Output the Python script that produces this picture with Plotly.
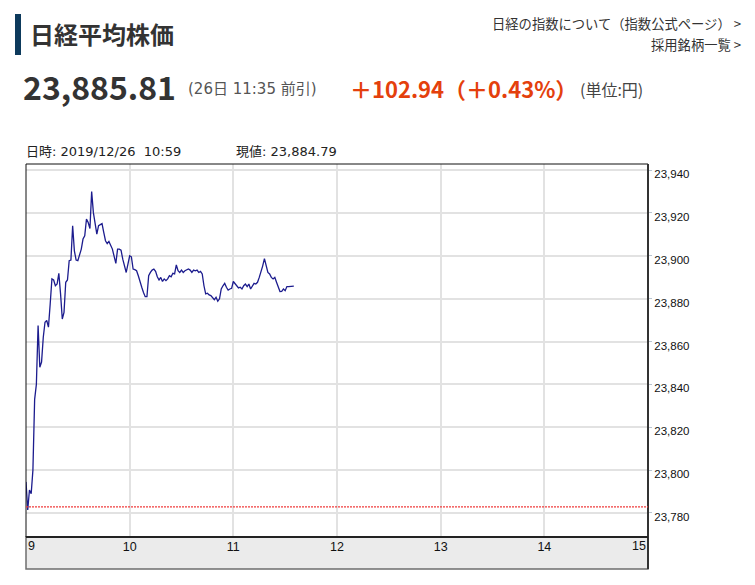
import plotly.graph_objects as go

# ---------------- data ----------------
times = [
    "9:00", "9:01", "9:02", "9:03", "9:04", "9:05", "9:06", "9:07", "9:08", "9:09",
    "9:10", "9:11", "9:12", "9:13", "9:14", "9:15", "9:16", "9:17", "9:18", "9:19",
    "9:20", "9:21", "9:22", "9:23", "9:24", "9:25", "9:26", "9:27", "9:28", "9:29",
    "9:30", "9:32", "9:33", "9:34", "9:35", "9:36", "9:37", "9:38", "9:39",
    "9:40", "9:41", "9:42", "9:43", "9:44", "9:45", "9:46", "9:47", "9:48",
    "9:50", "9:51", "9:52", "9:53", "9:54", "9:55", "9:56", "9:58", "9:59",
    "10:00", "10:01", "10:02", "10:03", "10:04", "10:05", "10:06", "10:07", "10:08", "10:09",
    "10:10", "10:11", "10:12", "10:13", "10:14", "10:15", "10:16", "10:17", "10:18", "10:19",
    "10:20", "10:21", "10:22", "10:23", "10:24", "10:25", "10:26", "10:27", "10:28", "10:29",
    "10:30", "10:31", "10:32", "10:33", "10:34", "10:35", "10:36", "10:37", "10:38", "10:39",
    "10:40", "10:41", "10:42", "10:43", "10:44", "10:45", "10:46", "10:47", "10:48", "10:49",
    "10:50", "10:51", "10:52", "10:53", "10:54", "10:55", "10:56", "10:57", "10:58", "10:59",
    "11:00", "11:01", "11:02", "11:03", "11:04", "11:05", "11:06", "11:07", "11:08", "11:09",
    "11:10", "11:11", "11:12", "11:13", "11:14", "11:15", "11:16", "11:17", "11:18", "11:19",
    "11:20", "11:21", "11:22", "11:23", "11:24", "11:25", "11:26", "11:27", "11:28", "11:29",
    "11:30", "11:31", "11:32", "11:33", "11:34", "11:35",
]
values = [
    23794.5, 23781.4, 23790.7, 23789.0, 23800.0, 23833.0, 23840.0, 23867.4, 23848.0, 23850.4,
    23862.0, 23869.0, 23869.8, 23866.7, 23877.5, 23889.2, 23888.7, 23886.0, 23886.8, 23891.8,
    23882.2, 23870.5, 23873.6, 23887.6, 23888.7, 23897.7, 23898.0, 23914.0, 23902.3, 23898.0,
    23897.7, 23903.1, 23907.8, 23909.3, 23917.1, 23915.5, 23912.7, 23929.9, 23920.1,
    23915.5, 23910.1, 23914.0, 23914.7, 23915.0, 23910.9, 23907.0, 23905.7, 23906.7,
    23903.1, 23900.0, 23896.4, 23903.1, 23903.1, 23902.6, 23898.4, 23892.2, 23896.9,
    23900.0, 23899.5, 23893.8, 23893.5, 23893.0, 23890.7, 23887.6, 23885.3, 23882.9, 23880.9,
    23880.9, 23890.7, 23892.2, 23893.3, 23893.8, 23892.7, 23890.2, 23888.7, 23889.9, 23888.0,
    23889.2, 23888.4, 23889.2, 23890.7, 23890.2, 23891.8, 23891.5, 23895.7, 23893.0, 23892.2,
    23893.3, 23892.2, 23893.0, 23893.5, 23893.8, 23893.3, 23892.2, 23893.3, 23893.0, 23893.3,
    23892.2, 23892.7, 23891.5, 23886.0, 23882.2, 23882.5, 23881.7, 23881.4, 23880.6, 23879.5,
    23880.6, 23878.8, 23879.9, 23884.5, 23886.0, 23887.1, 23885.3, 23884.0, 23884.5, 23884.79,
    23888.0, 23886.8, 23885.6, 23885.0, 23885.3, 23884.5, 23886.0, 23886.8, 23885.6, 23886.8,
    23884.5, 23886.0, 23887.1, 23886.8, 23887.6, 23889.9, 23892.2, 23895.3, 23898.7, 23894.6,
    23892.2, 23891.5, 23889.9, 23889.2, 23889.9, 23887.6, 23885.3, 23883.3, 23883.4, 23884.5,
    23883.7, 23885.6, 23885.6, 23885.7, 23885.8, 23885.81,
]
prev_close = 23782.87
cursor_time = "10:59"
y_ticks = [23780, 23800, 23820, 23840, 23860, 23880, 23900, 23920, 23940]
x_ticks = [9, 10, 11, 12, 13, 14, 15]
x_tick_labels = ["9", "10", "11", "12", "13", "14", "15"]

# ---------------- helpers ----------------
def to_hour(t):
    h, m = t.split(":")
    return int(h) + int(m) / 60.0

xs = [to_hour(t) for t in times]

W, H = 755, 585
PL, PR, PT, PB = 26, 648, 164, 537

def px(x):
    return (x - PL) / (PR - PL)

def py(y):
    return (PB - y) / (PB - PT)

JP = "Noto Sans CJK JP, Noto Sans, sans-serif"
WIDE = "DejaVu Sans, Noto Sans CJK JP, sans-serif"
AX = "Liberation Sans, Arial, sans-serif"

last = values[-1]
chg = last - prev_close
pct = chg / prev_close * 100
cur_val = values[times.index(cursor_time)]

fig = go.Figure()
fig.add_trace(go.Scatter(
    x=xs, y=values, mode="lines",
    line=dict(color="#1c1c8e", width=1.3),
    hoverinfo="skip", showlegend=False,
))

shapes = [
    # x-axis gray band
    dict(type="rect", xref="paper", yref="paper", x0=0, x1=1, y0=py(569), y1=0,
         fillcolor="#ebebeb", line=dict(color="#6e6e6e", width=1.5), layer="below"),
    # plot frame
    dict(type="rect", xref="paper", yref="paper", x0=0, x1=1, y0=0, y1=1,
         line=dict(color="#111111", width=1)),
    dict(type="line", xref="paper", yref="paper", x0=1, x1=1, y0=py(569), y1=1,
         line=dict(color="#333333", width=2)),
    dict(type="line", xref="paper", yref="paper", x0=0, x1=1, y0=0, y1=0,
         line=dict(color="#222222", width=2)),
    # title bar
    dict(type="rect", xref="paper", yref="paper", x0=px(15), x1=px(21), y0=py(55), y1=py(14),
         fillcolor="#0d3a5c", line=dict(width=0)),
]

def ann(text, x, y, size, color="#333333", xanchor="left", family=JP):
    return dict(text=text, x=px(x), y=py(y), xref="paper", yref="paper",
                xanchor=xanchor, yanchor="middle", showarrow=False,
                font=dict(size=size, color=color, family=family))

xfont = dict(size=12.5, color="#111111", family=AX)

annotations = [
    ann("<b>日経平均株価</b>", 28, 33, 24),
    ann("<b>{:,.2f}</b>".format(last), 21, 86, 32),
    ann("(26日 11:35 前引)", 186, 89, 15, "#555555", family=WIDE),
    ann("<b>＋{:.2f}（＋{:.2f}%）</b>".format(chg, pct), 348, 88, 22, "#e4400c"),
    ann("(単位:円)", 578, 89, 16, "#444444"),
    ann("日経の指数について（指数公式ページ） >", 743, 23, 13.3, "#333333", "right"),
    ann("採用銘柄一覧 >", 743, 44, 13.3, "#333333", "right"),
    ann("日時: 2019/12/26  {}".format(cursor_time), 24, 151, 13, "#222222", family=WIDE),
    ann("現値: {:,.2f}".format(cur_val), 234, 151, 13, "#222222", family=WIDE),
    # edge hour labels: first sits right of its tick, last sits left of its tick
    dict(text=x_tick_labels[0], x=x_ticks[0], xref="x", y=py(546), yref="paper",
         xanchor="left", yanchor="middle", showarrow=False, font=xfont),
    dict(text=x_tick_labels[-1], x=x_ticks[-1], xref="x", y=py(546), yref="paper",
         xanchor="right", yanchor="middle", showarrow=False, font=xfont),
]

inner = [(v, t) for v, t in zip(x_ticks, x_tick_labels) if v not in (x_ticks[0], x_ticks[-1])]

fig.update_layout(
    width=W, height=H,
    margin=dict(l=PL, r=W - PR, t=PT, b=H - PB, pad=0),
    paper_bgcolor="white", plot_bgcolor="white",
    shapes=shapes, annotations=annotations,
    showlegend=False,
    xaxis=dict(
        range=[x_ticks[0], x_ticks[-1]],
        tickvals=[v for v, _ in inner], ticktext=[t for _, t in inner],
        showgrid=True, gridcolor="#e2e2e2", gridwidth=2,
        zeroline=False, showline=False, ticks="",
        tickfont=xfont, fixedrange=True,
    ),
    yaxis=dict(
        side="right", range=[23768.8, 23942.8], tickvals=y_ticks,
        ticktext=["{:,}".format(v) for v in y_ticks],
        showgrid=True, gridcolor="#e2e2e2", gridwidth=2,
        zeroline=False, showline=False,
        ticks="outside", ticklen=3, tickcolor="#b8c4d0",
        ticklabelshift=4,
        tickfont=dict(size=11.5, color="#111111", family=AX),
        fixedrange=True,
    ),
)
# previous close reference line
fig.add_hline(y=prev_close, line=dict(color="#f03c3c", width=1.2, dash="2px,1px"), layer="above")

fig.write_html("out.html", config={"displayModeBar": False},
               post_script="document.body.style.margin='0px';")
